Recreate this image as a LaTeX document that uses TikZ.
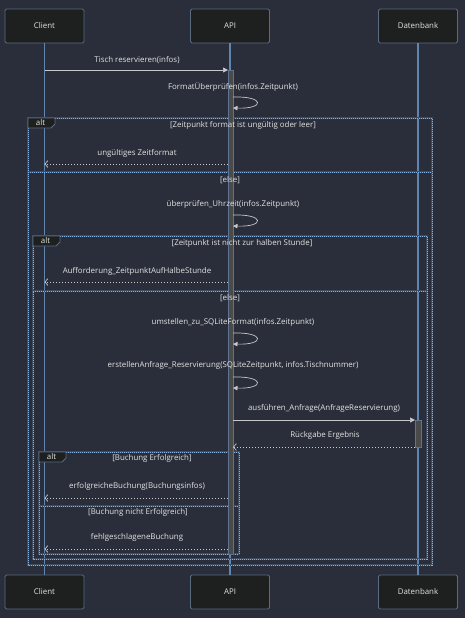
\documentclass[tikz,border=0pt]{standalone}
\usepackage{fontspec}
\setmainfont{Open Sans}
\usetikzlibrary{arrows.meta}

\definecolor{bg}{HTML}{2A2E3A}
\definecolor{boxfill}{HTML}{1E1F1F}
\definecolor{boxline}{HTML}{5A6B80}
\definecolor{lifecol}{HTML}{5F85B0}
\definecolor{txt}{HTML}{E2E2E2}
\definecolor{msgcol}{HTML}{C8C8C8}
\definecolor{framedot}{HTML}{86B3E3}
\definecolor{frameunder}{HTML}{3D4B60}
\definecolor{actfill}{HTML}{4A4A4A}
\definecolor{actline}{HTML}{5E7390}

\tikzset{
  participant/.style={draw=boxline, fill=boxfill, line width=0.8pt, rounded corners=1.5pt,
    minimum width=79pt, minimum height=34pt, inner sep=0pt, text=txt},
  lifeline/.style={draw=lifecol, line width=1.2pt},
  activation/.style={draw=actline, fill=actfill, line width=0.8pt},
  syncmsg/.style={draw=msgcol, line width=0.7pt, -{Triangle[length=5pt,width=5pt]}},
  replymsg/.style={draw=msgcol, line width=0.7pt, dash pattern=on 1.5pt off 1.5pt,
    -{Straight Barb[length=3pt,width=7pt]}},
  selfmsg/.style={draw=msgcol, line width=0.7pt, -{Triangle[length=4.5pt,width=4.5pt]}},
  msglabel/.style={text=txt, inner sep=0pt},
  frameunder/.style={draw=frameunder, line width=1.2pt},
  framedots/.style={draw=framedot, line width=0.8pt, dash pattern=on 1pt off 1pt},
  tabshape/.style={draw=boxline, fill=boxfill, line width=0.8pt},
  tablabel/.style={text=txt, inner sep=0pt},
}

\begin{document}
\begin{tikzpicture}[x=1pt, y=-1pt, font=\fontsize{7.9}{9}\selectfont]
  % canvas
  \fill[bg] (0,0) rectangle (465,618);
  \useasboundingbox (0,0) rectangle (465,618);

  % participants, top and bottom
  \node[participant] (ctop) at (44.5,26) {Client};
  \node[participant] (atop) at (230,26) {API};
  \node[participant] (dtop) at (418,26) {Datenbank};
  \node[participant] (cbot) at (44.5,592) {Client};
  \node[participant] (abot) at (230,592) {API};
  \node[participant] (dbot) at (418,592) {Datenbank};

  % lifelines
  \draw[lifeline] (ctop.south) -- (cbot.north);
  \draw[lifeline] (atop.south) -- (abot.north);
  \draw[lifeline] (dtop.south) -- (dbot.north);

  % combined fragments (alt)
  \foreach \xa/\ya/\xb/\yb in {28/118/432/565, 33/236/427/559, 39/452/239/554} {
    \draw[frameunder] (\xa,\ya) rectangle (\xb,\yb);
    \draw[framedots] (\xa,\ya) rectangle (\xb,\yb);
  }
  % operand separators
  \foreach \xa/\xb/\y in {28/432/172, 33/427/291, 39/239/506} {
    \draw[frameunder] (\xa,\y) -- (\xb,\y);
    \draw[framedots] (\xa,\y) -- (\xb,\y);
  }
  % fragment tabs
  \foreach \xa/\ya/\nm in {28/118/alta, 33/236/altb, 39/452/altc} {
    \draw[tabshape] (\xa,\ya) -- ++(27,0) -- ++(0,6) -- ++(-4,4) -- ++(-23,0) -- cycle;
    \node[tablabel] (\nm) at ([xshift=12.5pt,yshift=-5pt]\xa,\ya) {alt};
  }

  % activation bars
  \draw[activation] (228,70) rectangle (233,554);
  \draw[activation] (415,420) rectangle (421,447);

  % guards
  \node[msglabel] (g1) at (243,125) {[Zeitpunkt format ist ungültig oder leer]};
  \node[msglabel] (g2) at (230,180) {[else]};
  \node[msglabel] (g3) at (242,243) {[Zeitpunkt ist nicht zur halben Stunde]};
  \node[msglabel] (g4) at (230,298) {[else]};
  \node[msglabel] (g5) at (152,458) {[Buchung Erfolgreich]};
  \node[msglabel] (g6) at (138,512) {[Buchung nicht Erfolgreich]};

  % message end points
  \coordinate (m1s) at (44.5,70);  \coordinate (m1e) at (228,70);
  \coordinate (r1s) at (228,164);  \coordinate (r1e) at (44.5,164);
  \coordinate (r2s) at (228,282);  \coordinate (r2e) at (44.5,282);
  \coordinate (m2s) at (233,420);  \coordinate (m2e) at (415,420);
  \coordinate (r3s) at (415,447);  \coordinate (r3e) at (233,447);
  \coordinate (r4s) at (228,498);  \coordinate (r4e) at (44.5,498);
  \coordinate (r5s) at (228,549);  \coordinate (r5e) at (44.5,549);

  % messages
  \node[msglabel] (l1) at (137,60) {Tisch reservieren(infos)};
  \draw[syncmsg] (m1s) -- (m1e);

  \node[msglabel] (l2) at (233,87) {FormatÜberprüfen(infos.Zeitpunkt)};
  \coordinate (s1a) at (233,97); \coordinate (s1b) at (233,108);
  \draw[selfmsg] (s1a) .. controls (265,96) and (265,109) .. (s1b);

  \node[msglabel] (l3) at (137,153) {ungültiges Zeitformat};
  \draw[replymsg] (r1s) -- (r1e);

  \node[msglabel] (l4) at (233,204) {überprüfen\_Uhrzeit(infos.Zeitpunkt)};
  \coordinate (s2a) at (233,215); \coordinate (s2b) at (233,226);
  \draw[selfmsg] (s2a) .. controls (265,214) and (265,227) .. (s2b);

  \node[msglabel] (l5) at (137,271) {Aufforderung\_ZeitpunktAufHalbeStunde};
  \draw[replymsg] (r2s) -- (r2e);

  \node[msglabel] (l6) at (233,322) {umstellen\_zu\_SQLiteFormat(infos.Zeitpunkt)};
  \coordinate (s3a) at (233,333); \coordinate (s3b) at (233,344);
  \draw[selfmsg] (s3a) .. controls (265,332) and (265,345) .. (s3b);

  \node[msglabel] (l7) at (233,365) {erstellenAnfrage\_Reservierung(SQLiteZeitpunkt, infos.Tischnummer)};
  \coordinate (s4a) at (233,377); \coordinate (s4b) at (233,388);
  \draw[selfmsg] (s4a) .. controls (265,376) and (265,389) .. (s4b);

  \node[msglabel] (l8) at (324,408) {ausführen\_Anfrage(AnfrageReservierung)};
  \draw[syncmsg] (m2s) -- (m2e);

  \node[msglabel] (l9) at (325,435) {Rückgabe Ergebnis};
  \draw[replymsg] (r3s) -- (r3e);

  \node[msglabel] (l10) at (137,486) {erfolgreicheBuchung(Buchungsinfos)};
  \draw[replymsg] (r4s) -- (r4e);

  \node[msglabel] (l11) at (137,537) {fehlgeschlageneBuchung};
  \draw[replymsg] (r5s) -- (r5e);
\end{tikzpicture}
\end{document}
